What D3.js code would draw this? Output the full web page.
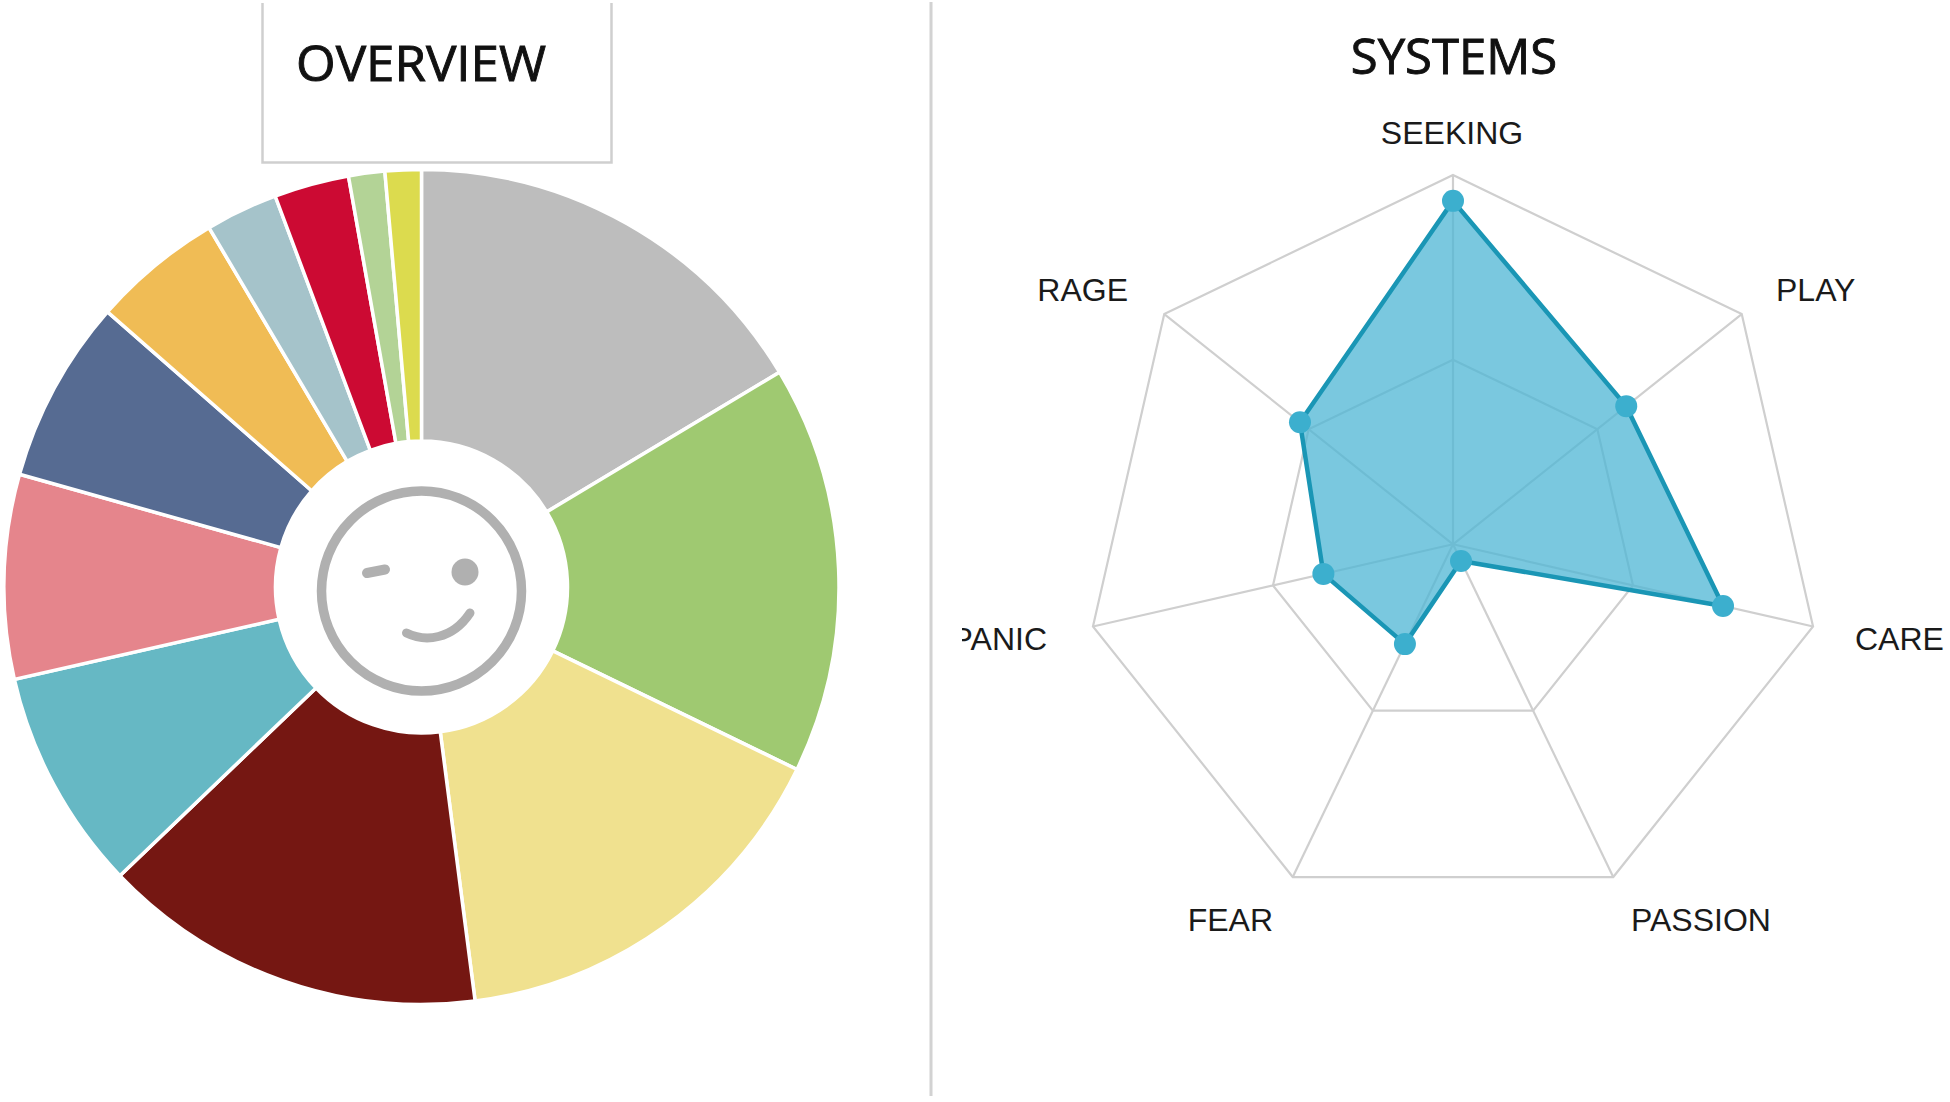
<!DOCTYPE html>
<html>
<head>
<meta charset="utf-8">
<script src="https://cdn.jsdelivr.net/npm/d3@7/dist/d3.min.js"></script>
<style>
html,body{margin:0;padding:0;background:#fff;}
svg{display:block;}
.title{font-family:"Open Sans",sans-serif;fill:#111;font-weight:400;stroke:#111;stroke-width:0.9px;}
.axisLabel{font-family:"Liberation Sans",Arial,sans-serif;fill:#1a1a1a;font-size:32px;}
</style>
</head>
<body>
<svg id="chart" width="1950" height="1102"></svg>
<script>
// ---- data ----
const sliceValues = [16.4, 15.8, 15.75, 14.9, 8.6, 7.9, 7.1, 5.05, 2.8, 2.9, 1.4, 1.4];
const sliceColors = ["#bdbdbd","#9fc971","#f0e18f","#751712","#66b8c4","#e5858c","#566b92","#f0bc55","#a5c3ca","#cc0a33","#b3d396","#dcdb4e"];
const systems = ["SEEKING","PLAY","CARE","PASSION","FEAR","PANIC","RAGE"];
const systemValues = [93, 60, 75, 5, 30, 36, 53];
const gridLevels = [50, 100];

// ---- layout ----
const labelLayout = [
  {x:1452, y:144, anchor:"middle"},
  {x:1776, y:301, anchor:"start"},
  {x:1855, y:650, anchor:"start"},
  {x:1631, y:931, anchor:"start"},
  {x:1273, y:931, anchor:"end"},
  {x:1047, y:650, anchor:"end"},
  {x:1128, y:301, anchor:"end"}
];

const svg = d3.select("#chart");

// ---- divider ----
svg.append("line").attr("x1",931).attr("x2",931).attr("y1",2).attr("y2",1096)
  .attr("stroke","#d2d2d2").attr("stroke-width",3);

// ---- overview title box ----
svg.append("path").attr("d","M262.5,3V162.5H611.5V3").attr("fill","none")
  .attr("stroke","#cfcfcf").attr("stroke-width",2.5);
svg.append("text").attr("class","title").attr("x",296).attr("y",81)
  .attr("font-size",49).attr("textLength",250).attr("lengthAdjust","spacingAndGlyphs").text("OVERVIEW");

// ---- donut ----
const donut = svg.append("g").attr("transform","translate(421.5,587)");
const pie = d3.pie().sort(null).value(d=>d);
const arc = d3.arc().innerRadius(146).outerRadius(417.5);
donut.selectAll("path").data(pie(sliceValues)).join("path")
  .attr("d",arc)
  .attr("fill",(d,i)=>sliceColors[i])
  .attr("stroke","#fff").attr("stroke-width",3.5);

// ---- face ----
const face = svg.append("g").attr("fill","none").attr("stroke","#b0b0b0").attr("stroke-linecap","round");
face.append("circle").attr("cx",421.5).attr("cy",591).attr("r",100).attr("stroke-width",9.5);
face.append("path").attr("d","M367,573L385,569.5").attr("stroke-width",10);
face.append("circle").attr("cx",465).attr("cy",572).attr("r",13.5).attr("fill","#b0b0b0").attr("stroke","none");
face.append("path").attr("d","M406.5,633C425,642 452,640 470,613").attr("stroke-width",9);

// ---- radar ----
const radarCx = 1453, radarCy = 544.3, radarR = 369.3;
const radar = svg.append("g").attr("transform",`translate(${radarCx},${radarCy})`);
const rScale = d3.scaleLinear().domain([0,100]).range([0,radarR]);
const angle = i => i*2*Math.PI/systems.length;
const radial = d3.lineRadial().curve(d3.curveLinearClosed).angle((d,i)=>angle(i)).radius(d=>rScale(d));

gridLevels.forEach(level=>{
  radar.append("path").attr("d",radial(systems.map(()=>level)))
    .attr("fill","none").attr("stroke","#cfcfcf").attr("stroke-width",2.2);
});
radar.selectAll("line.spoke").data(systems).join("line").attr("class","spoke")
  .attr("x1",0).attr("y1",0)
  .attr("x2",(d,i)=>rScale(100)*Math.sin(angle(i)))
  .attr("y2",(d,i)=>-rScale(100)*Math.cos(angle(i)))
  .attr("stroke","#cfcfcf").attr("stroke-width",2.2);

radar.append("path").attr("d",radial(systemValues))
  .attr("fill","#4eb5d4").attr("fill-opacity",0.75)
  .attr("stroke","#1a96b5").attr("stroke-width",4.5).attr("stroke-linejoin","round");

radar.selectAll("circle").data(systemValues).join("circle")
  .attr("cx",(d,i)=>rScale(d)*Math.sin(angle(i)))
  .attr("cy",(d,i)=>-rScale(d)*Math.cos(angle(i)))
  .attr("r",11).attr("fill","#3cafce");

// ---- radar title and labels ----
svg.append("text").attr("class","title").attr("x",1454).attr("y",74).attr("text-anchor","middle")
  .attr("font-size",49).text("SYSTEMS");

const clip = svg.append("clipPath").attr("id","panelClip");
clip.append("rect").attr("x",962).attr("y",0).attr("width",988).attr("height",1102);

svg.append("g").attr("clip-path","url(#panelClip)")
  .selectAll("text").data(systems).join("text").attr("class","axisLabel")
  .attr("x",(d,i)=>labelLayout[i].x)
  .attr("y",(d,i)=>labelLayout[i].y)
  .attr("text-anchor",(d,i)=>labelLayout[i].anchor)
  .text(d=>d);
</script>
</body>
</html>
